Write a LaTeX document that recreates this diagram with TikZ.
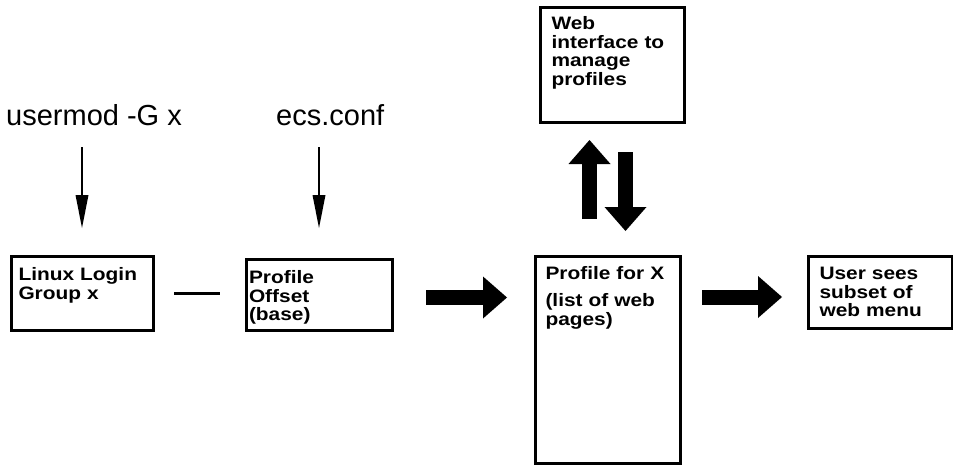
\documentclass[tikz,border=0pt]{standalone}
\usepackage{fontspec}
\setmainfont{Liberation Sans}
\newfontfamily\boxfont{Liberation Sans}[FakeStretch=1.16]
\usetikzlibrary{arrows.meta,calc}

\tikzset{
  box/.style={draw,line width=3pt,anchor=north west,inner ysep=0pt,align=left,
    font=\boxfont\bfseries\fontsize{18}{18.5}\selectfont},
  cmd/.style={anchor=base west,inner sep=0pt,font=\fontsize{29}{34}\selectfont},
  thinarrow/.style={line width=2.5pt,-{Triangle[length=33pt,width=13pt,line width=0pt]}},
  fatarrow/.style={line width=15pt,-{Triangle[length=24pt,width=42pt,line width=0pt]}},
}

\begin{document}
\begin{tikzpicture}[x=1pt,y=-1pt]
\useasboundingbox (0,0) rectangle (953,466);

% Sources
\node[cmd] (usermod) at (6,125) {usermod -G x};
\node[cmd] (ecsconf) at (276,125) {ecs.conf};

% === Boxes ===
\node[box,text width=127pt,inner xsep=7.5pt,text height=24.5pt,text depth=49.5pt]
  (linux) at (9.5,254.5) {Linux Login\\Group x};
\node[box,text width=140pt,inner xsep=3pt,text height=24.5pt,text depth=46.5pt]
  (offset) at (244.5,257.5) {Profile\\Offset\\(base)};
\node[box,text width=124pt,inner xsep=10.5pt,text height=23.5pt,text depth=183.5pt]
  (profx) at (533.5,254.5) {Profile for X\\[8.5pt](list of web\\pages)};
\node[box,text width=121pt,inner xsep=11.5pt,text height=23.5pt,text depth=48.5pt]
  (user) at (806.5,254.5) {User sees\\subset of\\web menu};
\node[box,text width=121pt,inner xsep=11.5pt,text height=22.5pt,text depth=92.5pt]
  (web) at (538.5,5.5) {Web\\interface to\\manage\\profiles};

% Thin arrows into the boxes
\draw[thinarrow,shorten <=22pt,shorten >=26.5pt] (linux.north |- usermod.base) -- (linux.north);
\draw[thinarrow,shorten <=22pt,shorten >=29.5pt] (offset.north |- ecsconf.base) -- (offset.north);
\draw[line width=3pt,shorten <=19.5pt,shorten >=24.5pt] (linux.east) -- (offset.west |- linux.east);

% === Fat arrows ===
\draw[fatarrow,shorten <=32.5pt,shorten >=26.5pt]
  ([yshift=-4.5pt]linux.east -| offset.east) -- ([yshift=-4.5pt]linux.east -| profx.west);
\draw[fatarrow,shorten <=20.5pt,shorten >=24.5pt]
  ([yshift=-4pt]linux.east -| profx.east) -- ([yshift=-4pt]linux.east -| user.west);
\draw[fatarrow,shorten <=35.5pt,shorten >=16.5pt]
  ([xshift=-18pt]profx.north) -- ([xshift=-18pt]profx.north |- web.south);
\draw[fatarrow,shorten <=28.5pt,shorten >=23.5pt]
  ([xshift=18pt]profx.north |- web.south) -- ([xshift=18pt]profx.north);
\end{tikzpicture}
\end{document}
